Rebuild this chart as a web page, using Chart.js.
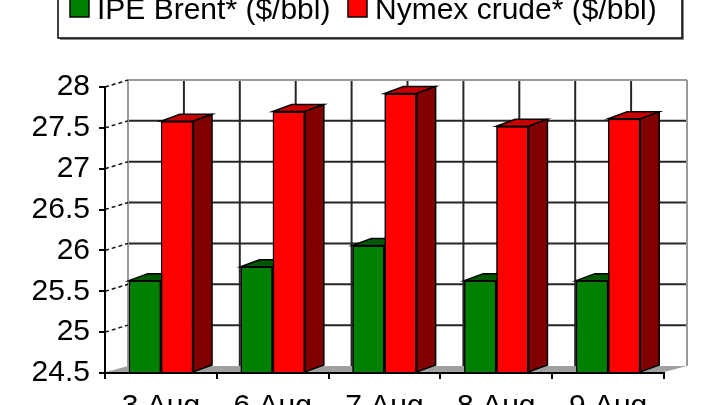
<!DOCTYPE html>
<html>
<head>
<meta charset="utf-8">
<script src="https://cdn.jsdelivr.net/npm/chart.js@4.4.1/dist/chart.umd.min.js"></script>
<style>
 html, body { margin: 0; padding: 0; background: #fff; }
 canvas { display: block; }
</style>
</head>
<body>
<canvas id="myChart" width="720" height="405"></canvas>
<script>
// data
var days = ["3 Aug", "6 Aug", "7 Aug", "8 Aug", "9 Aug"];
var brent = [25.63, 25.80, 26.06, 25.63, 25.63];
var nymex = [27.58, 27.70, 27.92, 27.52, 27.61];
var seriesNames = ["IPE Brent* ($/bbl)", "Nymex crude* ($/bbl)"];
var yMin = 24.5, yMax = 28, yStep = 0.5;

// fake 3d look: back wall offset and bar depth
var wallDx = 23, wallDy = 7;
var barDx = 19, barDy = 7;
var frontColors = ["#008000", "#ff0000"];
var topColors = ["#005800", "#c80000"];
var sideColors = ["#003800", "#800000"];
var FONT = '"Liberation Sans", Arial, sans-serif';

function line(ctx, x1, y1, x2, y2) {
 ctx.beginPath();
 ctx.moveTo(x1, y1);
 ctx.lineTo(x2, y2);
 ctx.stroke();
}
function poly(ctx, pts, fill) {
 ctx.beginPath();
 ctx.moveTo(pts[0][0], pts[0][1]);
 for (var i = 1; i < pts.length; i++) ctx.lineTo(pts[i][0], pts[i][1]);
 ctx.closePath();
 ctx.fillStyle = fill;
 ctx.fill();
 ctx.stroke();
}

var box3d = {
 id: "box3d",
 beforeDatasetsDraw: function(chart) {
  var ctx = chart.ctx, a = chart.chartArea, ys = chart.scales.y;
  var n = days.length, cw = (a.right - a.left) / n;
  ctx.save();
  // floor
  ctx.fillStyle = "#a0a0a0";
  ctx.beginPath();
  ctx.moveTo(a.left + 1, a.bottom - 1);
  ctx.lineTo(a.right, a.bottom - 1);
  ctx.lineTo(a.right + wallDx, a.bottom - wallDy);
  ctx.lineTo(a.left + wallDx, a.bottom - wallDy);
  ctx.closePath();
  ctx.fill();
  // back wall grid
  ctx.lineWidth = 2;
  ctx.strokeStyle = "#262626";
  for (var v = yMin + yStep; v < yMax - 0.01; v += yStep) {
   var y = ys.getPixelForValue(v) - wallDy;
   line(ctx, a.left + wallDx, y, a.right + wallDx, y);
  }
  for (var i = 1; i < n * 2; i++) {
   var x = a.left + wallDx + i * cw / 2;
   line(ctx, x, a.top - wallDy, x, a.bottom - wallDy);
  }
  // wall edges
  ctx.strokeStyle = "#9a9a9a";
  line(ctx, a.left + wallDx, a.top - wallDy, a.right + wallDx, a.top - wallDy);
  line(ctx, a.left + wallDx, a.top - wallDy, a.left + wallDx, a.bottom - wallDy);
  line(ctx, a.right + wallDx, a.top - wallDy, a.right + wallDx, a.bottom - wallDy);
  // side wall diagonals
  ctx.strokeStyle = "#111";
  ctx.lineWidth = 1.5;
  ctx.setLineDash([4, 3]);
  for (var v2 = yMin + yStep; v2 <= yMax + 0.01; v2 += yStep) {
   var y2 = ys.getPixelForValue(v2);
   line(ctx, a.left, y2, a.left + wallDx, y2 - wallDy);
  }
  ctx.restore();
 },
 afterDatasetsDraw: function(chart) {
  // chart.js paints the last dataset first, so repaint in index order
  // with the top and side faces, so each red bar hides the green side
  var ctx = chart.ctx;
  for (var d = 0; d < chart.data.datasets.length; d++) {
   var meta = chart.getDatasetMeta(d);
   meta.data.forEach(function(bar) {
    bar.draw(ctx);
    var p = bar.getProps(["x", "y", "base", "width"], true);
    var l = p.x - p.width / 2, r = p.x + p.width / 2;
    ctx.save();
    ctx.strokeStyle = "#000";
    ctx.lineWidth = 1.5;
    poly(ctx, [[l, p.y], [r, p.y], [r + barDx, p.y - barDy], [l + barDx, p.y - barDy]], topColors[d]);
    poly(ctx, [[r, p.y], [r + barDx, p.y - barDy], [r + barDx, p.base - barDy], [r, p.base]], sideColors[d]);
    ctx.restore();
   });
  }
 },
 afterDraw: function(chart) {
  var ctx = chart.ctx;
  ctx.save();
  // legend frame (its top runs off the picture)
  ctx.fillStyle = "#888";
  ctx.fillRect(60, -10, 624, 50);
  ctx.fillStyle = "#fff";
  ctx.fillRect(58, -10, 624, 48);
  ctx.strokeStyle = "#000";
  ctx.lineWidth = 1.5;
  ctx.strokeRect(58, -10, 624, 48);
  var pos = [70, 348];
  ctx.font = "30px " + FONT;
  ctx.textBaseline = "alphabetic";
  chart.data.datasets.forEach(function(ds, i) {
   ctx.fillStyle = ds.backgroundColor;
   ctx.fillRect(pos[i], -2, 19, 19);
   ctx.strokeRect(pos[i], -2, 19, 19);
   ctx.fillStyle = "#000";
   ctx.fillText(ds.label, pos[i] + 27, 18.5);
  });
  ctx.restore();
 }
};

new Chart("myChart", {
 type: "bar",
 data: {
  labels: days,
  datasets: [
   {
    label: seriesNames[0],
    data: brent,
    base: yMin,
    backgroundColor: frontColors[0],
    borderColor: "#000",
    borderWidth: 1.5,
    clip: false
   },
   {
    label: seriesNames[1],
    data: nymex,
    base: yMin,
    backgroundColor: frontColors[1],
    borderColor: "#000",
    borderWidth: 1.5,
    clip: false
   }
  ]
 },
 options: {
  responsive: false,
  animation: false,
  devicePixelRatio: 1,
  layout: { padding: { top: 87, right: 56, bottom: 0, left: 0 } },
  datasets: { bar: { categoryPercentage: 0.575, barPercentage: 1.0 } },
  scales: {
   x: {
    afterFit: function(s) { s.height = 32; },
    grid: { drawOnChartArea: false, tickLength: 6, color: "#000", lineWidth: 2, offset: true },
    border: { color: "#000", width: 2 },
    ticks: { color: "#000", font: { family: FONT, size: 30 }, padding: 10, maxRotation: 0, minRotation: 0, autoSkip: false }
   },
   y: {
    min: yMin,
    max: yMax,
    afterFit: function(s) { s.width = 105; },
    grid: { drawOnChartArea: false, tickLength: 6, color: "#000", lineWidth: 2 },
    border: { color: "#000", width: 2 },
    ticks: {
     stepSize: yStep,
     color: "#000",
     font: { family: FONT, size: 30 },
     padding: 9,
     callback: function(v) { return String(v); }
    }
   }
  },
  plugins: {
   legend: { display: false },
   tooltip: { enabled: false }
  }
 },
 plugins: [box3d]
});
</script>
</body>
</html>
